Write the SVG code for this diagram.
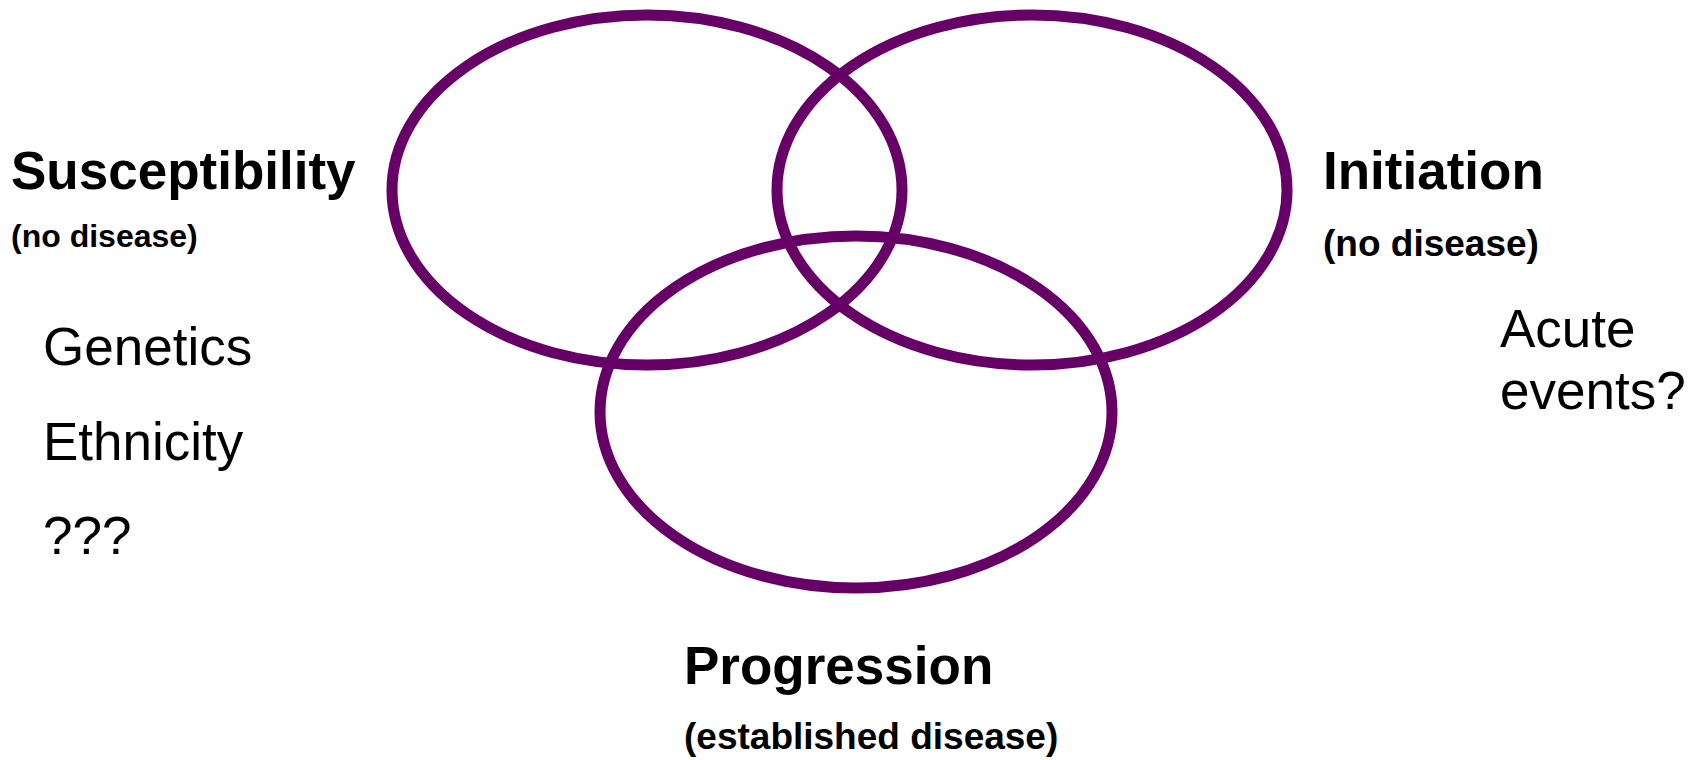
<svg xmlns="http://www.w3.org/2000/svg" width="1698" height="760" viewBox="0 0 1698 760">
<style>
.ring{fill:none;stroke:#660066;stroke-width:11}
.t{font-family:"Liberation Sans",Arial,sans-serif;fill:#000}
.h{font-weight:bold;font-size:53px}
.s{font-weight:bold}
.r{font-size:53px}
</style>
<rect width="1698" height="760" fill="#fff"/>
<g id="susceptibility-ring"><ellipse class="ring" cx="647" cy="190" rx="255" ry="175"/></g>
<g id="initiation-ring"><ellipse class="ring" cx="1032" cy="190" rx="255" ry="175"/></g>
<g id="progression-ring"><ellipse class="ring" cx="856" cy="412" rx="256" ry="176"/></g>
<g id="connectors"></g>
<g id="susceptibility-label">
<text class="t h" x="11" y="189">Susceptibility</text>
<text class="t s" x="11" y="247" font-size="32">(no disease)</text>
<text class="t r" x="43" y="365">Genetics</text>
<text class="t r" x="43" y="460">Ethnicity</text>
<text class="t r" x="43" y="554">???</text>
</g>
<g id="initiation-label">
<text class="t h" x="1323" y="189">Initiation</text>
<text class="t s" x="1323" y="256" font-size="37">(no disease)</text>
<text class="t r" x="1500" y="347">Acute</text>
<text class="t r" x="1500" y="409">events?</text>
</g>
<g id="progression-label">
<text class="t h" x="684" y="684">Progression</text>
<text class="t s" x="684" y="749" font-size="37">(established disease)</text>
</g>
</svg>
